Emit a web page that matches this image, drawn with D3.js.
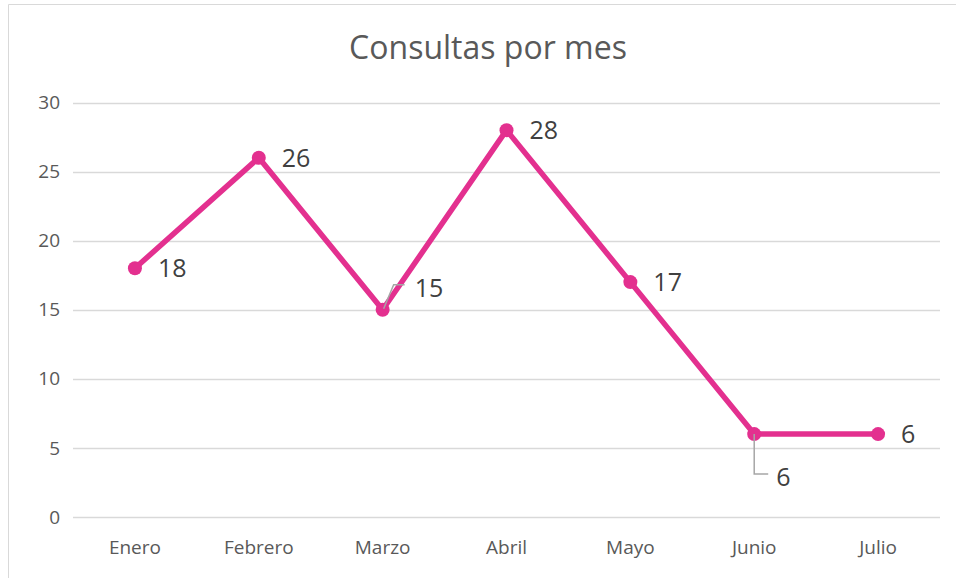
<!DOCTYPE html>
<html>
<head>
<meta charset="utf-8">
<script src="https://cdn.jsdelivr.net/npm/d3@7"></script>
<style>
  body { margin: 0; background: #fff; }
  text { font-family: "Open Sans", sans-serif; }
</style>
</head>
<body>
<svg id="chart" width="956" height="578"></svg>
<script>
const months = ["Enero", "Febrero", "Marzo", "Abril", "Mayo", "Junio", "Julio"];
const consultas = [18, 26, 15, 28, 17, 6, 6];
const yTicks = [0, 5, 10, 15, 20, 25, 30];
const pink = "#e3308f";
const fontFam = "'Open Sans', sans-serif";

var svg = d3.select("#chart");

// chart frame (only top/left edges show in the picture)
svg.append("path")
    .attr("d", "M8.5,578V4.5H956")
    .attr("fill", "none")
    .attr("stroke", "#d9d9d9");

var plotL = 73, plotR = 940, plotT = 102.5, plotB = 517;

var x = d3.scaleBand().domain(months).range([plotL, plotR]);
var y = d3.scaleLinear().domain([0, 30]).range([plotB, plotT]);

// gridlines
svg.append("g")
    .selectAll("line")
    .data(yTicks)
    .join("line")
    .attr("x1", plotL).attr("x2", plotR)
    .attr("y1", d => Math.round(y(d)) + 0.5)
    .attr("y2", d => Math.round(y(d)) + 0.5)
    .attr("stroke", "#d9d9d9")
    .attr("stroke-width", 1.5);

// y axis labels
var yAxis = svg.append("g")
    .attr("transform", "translate(" + (plotL - 13) + ",0)")
    .call(d3.axisLeft(y).tickValues(yTicks).tickSize(0).tickPadding(0));
yAxis.select(".domain").remove();
yAxis.selectAll("text")
    .attr("font-size", 19)
    .attr("font-family", fontFam)
    .attr("fill", "#595959");

// x axis labels
var xAxis = svg.append("g")
    .attr("transform", "translate(0," + plotB + ")")
    .call(d3.axisBottom(x).tickSize(0).tickPadding(24));
xAxis.select(".domain").remove();
xAxis.selectAll("text")
    .attr("font-size", 19)
    .attr("font-family", fontFam)
    .attr("fill", "#595959");

// title
svg.append("text")
    .attr("x", 488)
    .attr("y", 59)
    .attr("text-anchor", "middle")
    .attr("font-size", 32)
    .attr("fill", "#595959")
    .text("Consultas por mes");

var pts = months.map((m, i) => ({ m: m, v: consultas[i] }));
var cx = d => x(d.m) + x.bandwidth() / 2;

svg.append("path")
    .datum(pts)
    .attr("fill", "none")
    .attr("stroke", pink)
    .attr("stroke-width", 5.5)
    .attr("stroke-linejoin", "round")
    .attr("d", d3.line().x(cx).y(d => y(d.v)));

svg.append("g")
    .selectAll("circle")
    .data(pts)
    .join("circle")
    .attr("cx", cx)
    .attr("cy", d => y(d.v))
    .attr("r", 7)
    .attr("fill", pink);

// data labels: default to the right, two are moved with leader lines
var labelOffset = { "Marzo": [32, -22], "Junio": [22, 43] };
var leaders = { "Marzo": [[1, -1], [11, -25], [22, -25]], "Junio": [[0, 0], [0, 40], [14, 40]] };

svg.append("g")
    .selectAll("polyline")
    .data(pts.filter(d => leaders[d.m]))
    .join("polyline")
    .attr("points", d => leaders[d.m].map(p => [cx(d) + p[0], y(d.v) + p[1]].join(",")).join(" "))
    .attr("fill", "none")
    .attr("stroke", "#a6a6a6")
    .attr("stroke-width", 1.5);

svg.append("g")
    .selectAll("text")
    .data(pts)
    .join("text")
    .attr("x", d => cx(d) + (labelOffset[d.m] ? labelOffset[d.m][0] : 23))
    .attr("y", d => y(d.v) + (labelOffset[d.m] ? labelOffset[d.m][1] : 0))
    .attr("dy", "0.36em")
    .attr("font-size", 25)
    .attr("fill", "#404040")
    .text(d => d.v);
</script>
</body>
</html>
